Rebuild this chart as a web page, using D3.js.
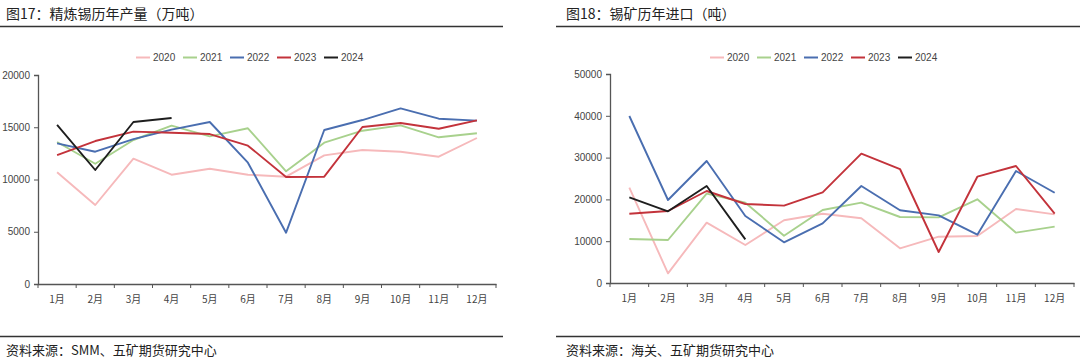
<!DOCTYPE html>
<html>
<head>
<meta charset="utf-8">
<script src="https://cdn.jsdelivr.net/npm/d3@7"></script>
<style>
  body { margin: 0; background: #fff; }
  svg { display: block; font-family: "Liberation Sans", "Noto Sans CJK SC", sans-serif; }
</style>
</head>
<body>
<div id="chart"></div>
<script>
// Month labels and series names
var months = ["1月", "2月", "3月", "4月", "5月", "6月", "7月", "8月", "9月", "10月", "11月", "12月"];
var years = ["2020", "2021", "2022", "2023", "2024"];
var colors = ["#f6b9bb", "#a8d18d", "#4a6eb0", "#c3333b", "#1e1e1e"];

// 图17 精炼锡产量 (吨)
var prod2020 = [10690, 7560, 11990, 10460, 11030, 10460, 10270, 12310, 12820, 12660, 12180, 13970];
var prod2021 = [13590, 11510, 13780, 15150, 14130, 14900, 10780, 13520, 14670, 15180, 14040, 14420];
var prod2022 = [13460, 12660, 13870, 14770, 15500, 11610, 4910, 14740, 15690, 16810, 15820, 15630];
var prod2023 = [12340, 13680, 14580, 14480, 14350, 13240, 10240, 10270, 15020, 15410, 14860, 15660];
var prod2024 = [15220, 10910, 15500, 15890];
var prodTicks = [0, 5000, 10000, 15000, 20000];

// 图18 锡矿进口 (吨)
var imp2020 = [22800, 2320, 14430, 9090, 15000, 16580, 15480, 8300, 11080, 11240, 17700, 16430];
var imp2021 = [10530, 10290, 21370, 19220, 11320, 17460, 19220, 15790, 15710, 20020, 12040, 13480];
var imp2022 = [39950, 19860, 29190, 16030, 9730, 14280, 23200, 17390, 16190, 11560, 26790, 21600];
var imp2023 = [16580, 17220, 22010, 18900, 18500, 21690, 30940, 27270, 7420, 25430, 27990, 16580];
var imp2024 = [20500, 17150, 23200, 10450];
var impTicks = [0, 10000, 20000, 30000, 40000, 50000];

var svg = d3.select("#chart").append("svg")
    .attr("width", 1080)
    .attr("height", 363);

function drawPanel(opt) {
    var g = svg.append("g");

    // title + rule
    g.append("text")
        .attr("x", opt.titleX).attr("y", 19)
        .style("font-family", "'Noto Sans CJK SC', sans-serif")
        .style("font-size", "14px")
        .style("fill", "#222")
        .text(opt.title);
    g.append("line")
        .attr("x1", opt.ruleX[0]).attr("x2", opt.ruleX[1])
        .attr("y1", 26.5).attr("y2", 26.5)
        .style("stroke", "#333").style("stroke-width", 1.3);

    // bottom rule + source
    g.append("line")
        .attr("x1", opt.ruleX[0]).attr("x2", opt.ruleX[1])
        .attr("y1", 336.5).attr("y2", 336.5)
        .style("stroke", "#333").style("stroke-width", 1.3);
    g.append("text")
        .attr("x", opt.titleX).attr("y", 355)
        .style("font-family", "'Noto Sans CJK SC', sans-serif")
        .style("font-size", "13px")
        .style("fill", "#222")
        .text(opt.source);

    var x = d3.scaleBand().domain(months).range(opt.xRange);
    var y = d3.scaleLinear().domain([0, opt.ticks[opt.ticks.length - 1]]).range(opt.yRange);

    // x axis
    var xa = g.append("g")
        .attr("transform", "translate(0," + opt.yRange[0] + ")")
        .call(d3.axisBottom(x).tickSize(0).tickPadding(12));
    xa.select(".domain").style("stroke", "#555").style("stroke-width", 1.3);
    xa.selectAll("text").style("font-family", "'Noto Sans CJK SC', sans-serif")
        .style("font-size", "10px").style("fill", "#444");
    // tick marks on band boundaries
    g.selectAll(null)
        .data(months.concat(["end"]))
        .enter().append("line")
        .attr("x1", function (d, i) { return opt.xRange[0] + i * x.step(); })
        .attr("x2", function (d, i) { return opt.xRange[0] + i * x.step(); })
        .attr("y1", opt.yRange[0]).attr("y2", opt.yRange[0] + 4)
        .style("stroke", "#555");

    // y axis
    var ya = g.append("g")
        .attr("transform", "translate(" + opt.xRange[0] + ",0)")
        .call(d3.axisLeft(y).tickValues(opt.ticks).tickSize(4).tickPadding(4).tickFormat(d3.format("d")));
    ya.select(".domain").style("stroke", "#555").style("stroke-width", 1.3);
    ya.selectAll("line").style("stroke", "#555");
    ya.selectAll("text").style("font-size", "10px").style("fill", "#444");

    // lines
    var line = d3.line()
        .x(function (d, i) { return x(months[i]) + x.bandwidth() / 2; })
        .y(function (d) { return y(d); });
    opt.series.forEach(function (s, i) {
        g.append("path")
            .datum(s)
            .attr("d", line)
            .style("fill", "none")
            .style("stroke", colors[i])
            .style("stroke-width", 1.9)
            .style("stroke-linejoin", "round");
    });

    // legend
    years.forEach(function (yr, i) {
        var lx = opt.legendX + i * 47;
        g.append("line")
            .attr("x1", lx).attr("x2", lx + 14)
            .attr("y1", 57.5).attr("y2", 57.5)
            .style("stroke", colors[i]).style("stroke-width", 2);
        g.append("text")
            .attr("x", lx + 17).attr("y", 61)
            .style("font-size", "10px").style("fill", "#444")
            .text(yr);
    });
}

drawPanel({
    title: "图17：精炼锡历年产量（万吨）",
    source: "资料来源：SMM、五矿期货研究中心",
    titleX: 6,
    ruleX: [0, 503],
    xRange: [38, 496],
    yRange: [284, 75],
    ticks: prodTicks,
    legendX: 136,
    series: [prod2020, prod2021, prod2022, prod2023, prod2024]
});

drawPanel({
    title: "图18：锡矿历年进口（吨）",
    source: "资料来源：海关、五矿期货研究中心",
    titleX: 566,
    ruleX: [556, 1080],
    xRange: [610, 1074],
    yRange: [283, 74],
    ticks: impTicks,
    legendX: 710,
    series: [imp2020, imp2021, imp2022, imp2023, imp2024]
});
</script>
</body>
</html>
